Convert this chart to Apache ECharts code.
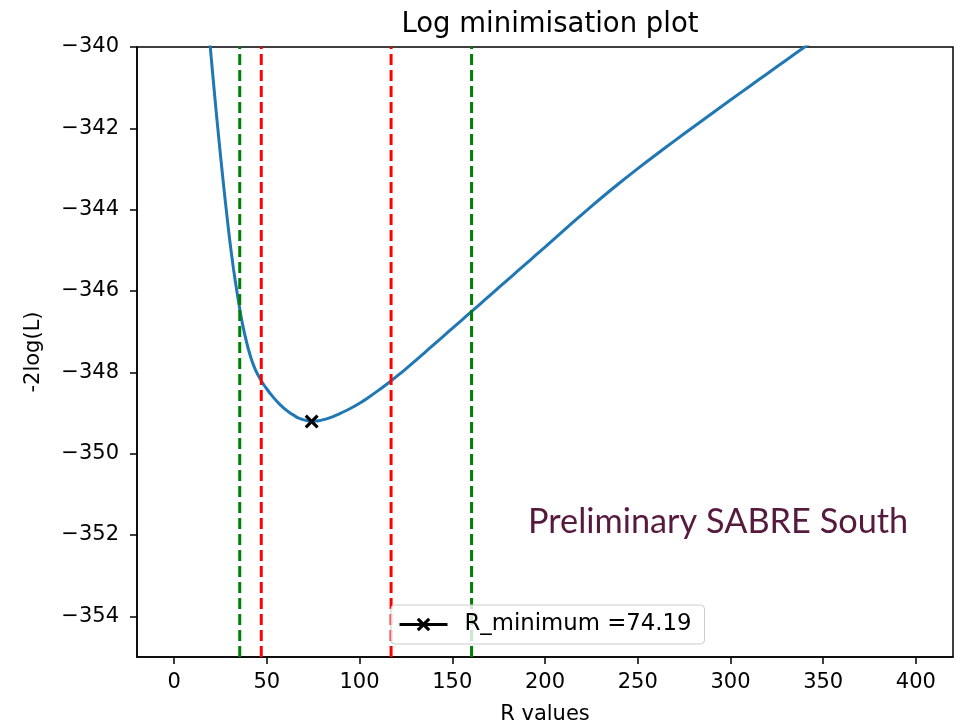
<!DOCTYPE html>
<html>
<head>
<meta charset="utf-8">
<script src="https://cdn.jsdelivr.net/npm/echarts@6/dist/echarts.min.js"></script>
<style>
  html, body { margin: 0; padding: 0; background: #ffffff; }
  #chart { width: 956px; height: 726px; }
</style>
</head>
<body>
<div id="chart"></div>
<script>
// Scan of -2log(L) against R
const rValues = [
  16, 18, 20, 22, 24, 26, 28, 30, 32, 34, 36, 38, 40, 42, 44, 46, 48, 50,
  52, 54, 56, 58, 60, 62, 64, 66, 68, 70, 72, 74, 76, 78, 80, 85, 90, 95,
  100, 105, 110, 115, 120, 125, 130, 135, 140, 145, 150, 155, 160, 165,
  170, 175, 180, 185, 190, 195, 200, 210, 220, 230, 240, 250, 260, 270,
  280, 290, 300, 310, 320, 330, 340, 350, 360, 370, 380, 390, 400
];
const logLValues = [
  -337.9, -339.2, -340.25, -341.25, -342.2, -343.1, -343.95, -344.75, -345.45, -346.05,
  -346.6, -347.05, -347.42, -347.72, -347.95, -348.13, -348.28, -348.41,
  -348.53, -348.64, -348.74, -348.83, -348.91, -348.98, -349.04, -349.10, -349.14, -349.17, -349.19,
  -349.21, -349.20, -349.19, -349.17, -349.10, -349.00, -348.89,
  -348.76, -348.61, -348.45, -348.28, -348.10, -347.915, -347.72, -347.52, -347.32, -347.12,
  -346.92, -346.72, -346.52, -346.32, -346.12, -345.92, -345.72, -345.52, -345.32, -345.12,
  -344.92, -344.515, -344.115, -343.725, -343.35, -342.99, -342.642, -342.302,
  -341.967, -341.635, -341.305, -340.977, -340.65, -340.324, -339.999, -339.674, -339.35, -339.03,
  -338.71, -338.39, -338.07
];

// Best fit point
const rMinimum = 74.19;
const logLMinimum = -349.21;
const minimumLabel = 'R_minimum =74.19';

// Interval boundaries: Δ = 1 (red) and Δ = 2.71 (green)
const redLimits = [47.0, 117.0];
const greenLimits = [35.4, 160.4];

// Axis ranges and tick positions
const xRange = [-20, 420];
const yRange = [-355, -340];
const xTicks = [0, 50, 100, 150, 200, 250, 300, 350, 400];
const yTicks = [-354, -352, -350, -348, -346, -344, -342, -340];

const FONT = 'DejaVu Sans';
const curve = rValues.map((r, i) => [r, logLValues[i]]);

function verticalLine(x, color) {
  return {
    type: 'line',
    data: [[x, yRange[0]], [x, yRange[1]]],
    showSymbol: false,
    symbol: 'none',
    silent: true,
    lineStyle: { color: color, width: 3, type: [11, 5] },
    z: 3
  };
}

// 'x' marker as a filled outline
const crossPath = 'path://M0,1.6 L1.6,0 L5,3.4 L8.4,0 L10,1.6 L6.6,5 L10,8.4 L8.4,10 L5,6.6 L1.6,10 L0,8.4 L3.4,5 Z';

const chart = echarts.init(document.getElementById('chart'), null, { renderer: 'canvas' });
chart.setOption({
  animation: false,
  backgroundColor: '#ffffff',
  title: {
    text: 'Log minimisation plot',
    left: 545,
    textAlign: 'center',
    top: 6,
    textStyle: { fontFamily: FONT, fontSize: 27.5, fontWeight: 'normal', color: '#000000' }
  },
  grid: {
    left: 137, right: 3, top: 47, bottom: 69,
    outerBoundsMode: 'none',
    containLabel: false,
    show: true, borderColor: '#000000', borderWidth: 1.5, backgroundColor: 'transparent'
  },
  legend: {
    data: [minimumLabel],
    left: 391, top: 605,
    padding: [8, 13, 8, 7],
    itemWidth: 48, itemHeight: 17,
    backgroundColor: 'rgba(255,255,255,0.8)',
    borderColor: '#cccccc', borderWidth: 1, borderRadius: 4,
    lineStyle: { width: 3 },
    textStyle: { fontFamily: FONT, fontSize: 22.8, color: '#000000', padding: [0, 0, 0, 12] }
  },
  xAxis: {
    type: 'value',
    min: xRange[0], max: xRange[1],
    name: 'R values', nameLocation: 'middle', nameGap: 47,
    nameTextStyle: { fontFamily: FONT, fontSize: 21, color: '#000000' },
    axisLine: { show: true, onZero: false, lineStyle: { color: '#000000', width: 1.5 } },
    axisTick: { show: true, customValues: xTicks, length: 7, lineStyle: { color: '#000000', width: 1.5 } },
    axisLabel: { customValues: xTicks, fontFamily: FONT, fontSize: 21, color: '#000000', margin: 15 },
    splitLine: { show: false }
  },
  yAxis: {
    type: 'value',
    min: yRange[0], max: yRange[1],
    name: '-2log(L)', nameLocation: 'middle', nameGap: 93, nameRotate: 90,
    nameTextStyle: { fontFamily: FONT, fontSize: 21, color: '#000000' },
    axisLine: { show: true, onZero: false, lineStyle: { color: '#000000', width: 1.5 } },
    axisTick: { show: true, customValues: yTicks, length: 7, lineStyle: { color: '#000000', width: 1.5 } },
    axisLabel: {
      customValues: yTicks, fontFamily: FONT, fontSize: 21, color: '#000000', margin: 18,
      formatter: v => (v < 0 ? '\u2212' : '') + Math.abs(v)
    },
    splitLine: { show: false }
  },
  series: [
    {
      name: '-2log(L)',
      type: 'line',
      data: curve,
      showSymbol: false,
      smooth: 0.25,
      clip: true,
      lineStyle: { color: '#1f77b4', width: 3 },
      itemStyle: { color: '#1f77b4' },
      z: 2
    },
    verticalLine(greenLimits[0], '#008000'),
    verticalLine(redLimits[0], '#ff0000'),
    verticalLine(redLimits[1], '#ff0000'),
    verticalLine(greenLimits[1], '#008000'),
    {
      name: minimumLabel,
      type: 'line',
      data: [[rMinimum, logLMinimum]],
      symbol: crossPath,
      symbolSize: 14,
      showSymbol: true,
      lineStyle: { color: '#000000', width: 3 },
      itemStyle: { color: '#000000' },
      z: 4
    }
  ],
  graphic: [
    {
      type: 'text',
      left: 528, top: 505,
      style: {
        text: 'Preliminary SABRE South',
        fontFamily: 'Lato',
        fontSize: 34.3,
        fill: '#561a3e'
      }
    }
  ]
});
</script>
</body>
</html>
